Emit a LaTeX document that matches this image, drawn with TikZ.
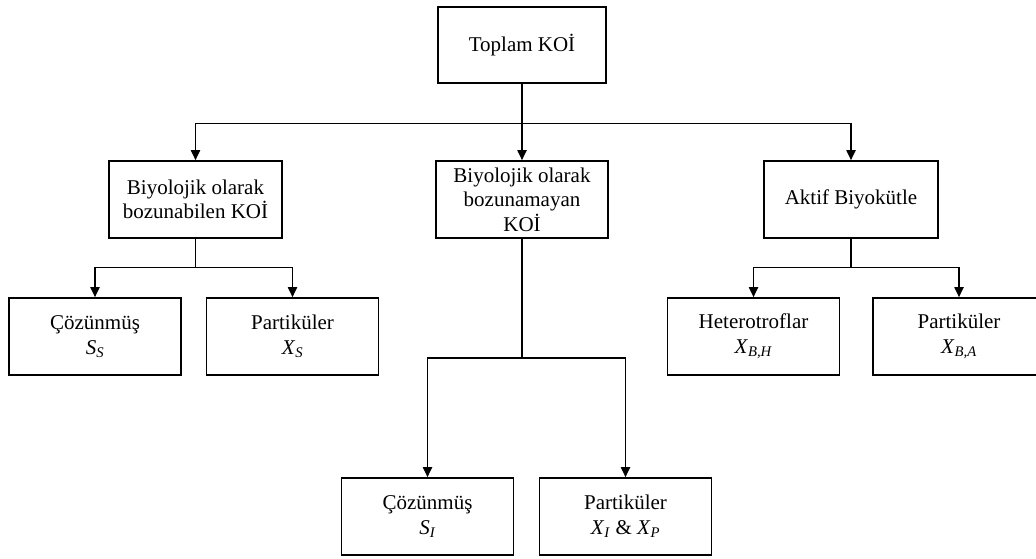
\documentclass[tikz,border=0pt]{standalone}
\usepackage{fontspec}
\setmainfont{Liberation Serif}
\usetikzlibrary{arrows.meta}
\newcommand{\sub}[2]{\textit{#1}\textsubscript{\textit{#2}}}
\begin{document}
\begin{tikzpicture}[x=1pt,y=-1pt,
  box/.style={draw, line width=1.6pt, minimum width=172pt, minimum height=77pt,
    align=center, inner sep=2pt, font=\fontsize{21}{24.5}\selectfont},
  conn/.style={line width=1.8pt},
  arr/.style={conn, -{Triangle[width=9pt,length=10pt]}}]
\useasboundingbox (0,0) rectangle (1036,558);
\clip (0,0) rectangle (1036,558);
% nodes
\node[box, minimum width=168pt, minimum height=76pt] (top) at (522,45) {Toplam KOİ};
\node[box, minimum width=173pt] (l2) at (195.5,199.5) {Biyolojik olarak\\bozunabilen KOİ};
\node[box] (m2) at (522,199.5) {Biyolojik olarak\\bozunamayan\\KOİ};
\node[box, minimum width=174pt] (r2) at (851,199.5) {Aktif Biyokütle};
\node[box] (l3a) at (95,336.5) {Çözünmüş\\\sub{S}{S}};
\node[box] (l3b) at (292.5,336.5) {Partiküler\\\sub{X}{S}};
\node[box] (r3a) at (753.5,336.5) {Heterotroflar\\\sub{X}{B,H}};
\node[box] (r3b) at (959,336.5) {Partiküler\\\sub{X}{B,A}};
\node[box] (m3a) at (427.5,516.5) {Çözünmüş\\\sub{S}{I}};
\node[box] (m3b) at (625.5,516.5) {Partiküler\\\sub{X}{I} \& \sub{X}{P}};
% junctions
\coordinate (j1) at (522,123.5);
\coordinate (j2) at (195.5,267.5);
\coordinate (j3) at (851,267.5);
\coordinate (j4) at (522,358);
% connectors
\draw[conn] (top.south) -- (j1);
\draw[arr] (j1) -| (l2.north);
\draw[arr] (j1) -| (r2.north);
\draw[arr] (j1) -- (m2.north);
\draw[conn] (l2.south) -- (j2);
\draw[arr] (j2) -| (l3a.north);
\draw[arr] (j2) -| (l3b.north);
\draw[conn] (r2.south) -- (j3);
\draw[arr] (j3) -| (r3a.north);
\draw[arr] (j3) -| (r3b.north);
\draw[conn] (m2.south) -- (j4);
\draw[arr] (j4) -| (m3a.north);
\draw[arr] (j4) -| (m3b.north);
\end{tikzpicture}
\end{document}
